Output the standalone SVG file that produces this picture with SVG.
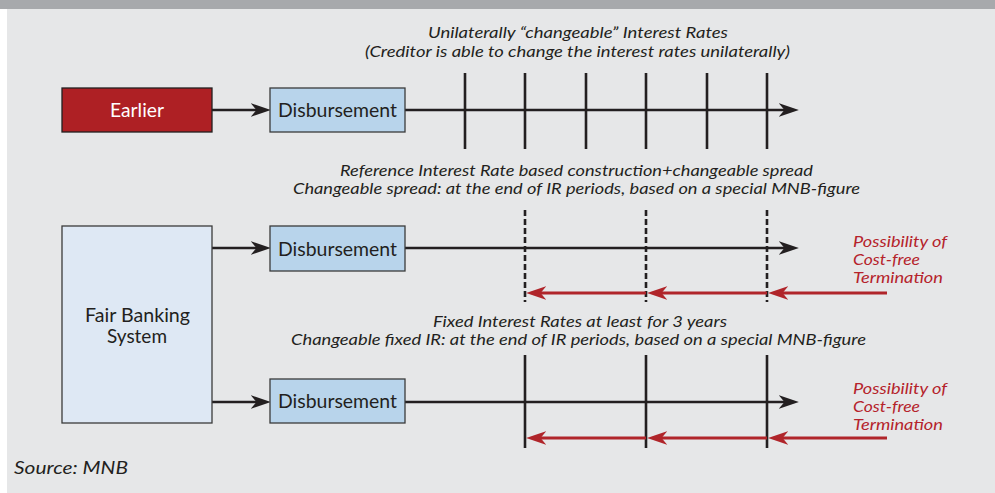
<svg xmlns="http://www.w3.org/2000/svg" width="995" height="493" viewBox="0 0 995 493">
<defs>
<style>
.t{font-family:Lato,"Open Sans","Liberation Sans",sans-serif;fill:#231f20}
.cap{font-style:italic;font-size:15.5px;text-anchor:middle}
.box{font-size:19px;text-anchor:middle}
.red{font-style:italic;font-size:15.5px;fill:#b5232b}
.ln{stroke:#231f20;stroke-width:2.6;fill:none}
.tick{stroke:#231f20;stroke-width:2.6}
.dash{stroke:#231f20;stroke-width:2.6;stroke-dasharray:6 3}
.rl{stroke:#b0252a;stroke-width:3;fill:none}
.nb{stroke:#3b3b3b;stroke-width:1.3}
</style>
<marker id="ab" markerUnits="userSpaceOnUse" markerWidth="20" markerHeight="14" viewBox="0 0 18 12" refX="10" refY="6" orient="auto">
<path d="M0,0 L18,6 L0,12 L5,6 Z" fill="#231f20"/>
</marker>
<marker id="ar" markerUnits="userSpaceOnUse" markerWidth="20" markerHeight="14" viewBox="0 0 18 12" refX="10" refY="6" orient="auto">
<path d="M0,0 L18,6 L0,12 L5,6 Z" fill="#b0252a"/>
</marker>
</defs>
<rect x="0" y="0" width="995" height="493" fill="#ffffff"/>
<rect x="7" y="0" width="988" height="493" fill="#e6e7e8"/>
<rect x="0" y="0" width="995" height="9" fill="#a7a9ac"/>

<g id="connectors">
<line class="ln" x1="212" y1="110" x2="262" y2="110" marker-end="url(#ab)"/>
<line class="ln" x1="212" y1="248" x2="262" y2="248" marker-end="url(#ab)"/>
<line class="ln" x1="212" y1="402" x2="262" y2="402" marker-end="url(#ab)"/>
<line class="ln" x1="405" y1="110" x2="790" y2="110" marker-end="url(#ab)"/>
<line class="ln" x1="405" y1="248" x2="790" y2="248" marker-end="url(#ab)"/>
<line class="ln" x1="405" y1="402" x2="790" y2="402" marker-end="url(#ab)"/>
<g id="ticks-top">
<line class="tick" x1="465" y1="73" x2="465" y2="149"/>
<line class="tick" x1="525" y1="73" x2="525" y2="149"/>
<line class="tick" x1="586" y1="73" x2="586" y2="149"/>
<line class="tick" x1="646" y1="73" x2="646" y2="149"/>
<line class="tick" x1="707" y1="73" x2="707" y2="149"/>
<line class="tick" x1="767" y1="73" x2="767" y2="149"/>
</g>
<g id="ticks-mid">
<line class="dash" x1="525" y1="210" x2="525" y2="302"/>
<line class="dash" x1="646" y1="210" x2="646" y2="302"/>
<line class="dash" x1="767" y1="210" x2="767" y2="302"/>
</g>
<g id="ticks-bot">
<line class="tick" x1="525" y1="355" x2="525" y2="448"/>
<line class="tick" x1="646" y1="355" x2="646" y2="448"/>
<line class="tick" x1="767" y1="355" x2="767" y2="448"/>
</g>
<g id="termination-mid">
<line class="rl" x1="887" y1="293" x2="777" y2="293" marker-end="url(#ar)"/>
<line class="rl" x1="767" y1="293" x2="656" y2="293" marker-end="url(#ar)"/>
<line class="rl" x1="646" y1="293" x2="535" y2="293" marker-end="url(#ar)"/>
</g>
<g id="termination-bot">
<line class="rl" x1="887" y1="438" x2="777" y2="438" marker-end="url(#ar)"/>
<line class="rl" x1="767" y1="438" x2="656" y2="438" marker-end="url(#ar)"/>
<line class="rl" x1="646" y1="438" x2="535" y2="438" marker-end="url(#ar)"/>
</g>
</g>

<g id="earlier">
<rect x="62" y="88" width="150" height="44" fill="#ae2024" stroke="#231f20" stroke-width="1.3"/>
<text class="t box" x="137" y="117" fill="#ffffff" style="fill:#ffffff" textLength="54" lengthAdjust="spacingAndGlyphs">Earlier</text>
</g>
<g id="disbursement-1">
<rect class="nb" x="270" y="88" width="135" height="44" fill="#b8d4eb"/>
<text class="t box" x="337.5" y="117" textLength="119" lengthAdjust="spacingAndGlyphs">Disbursement</text>
</g>
<g id="fair-banking">
<rect class="nb" x="62" y="226" width="150" height="197" fill="#dee8f4"/>
<text class="t box" x="137.5" y="322" textLength="105" lengthAdjust="spacingAndGlyphs">Fair Banking</text>
<text class="t box" x="137" y="343" textLength="60" lengthAdjust="spacingAndGlyphs">System</text>
</g>
<g id="disbursement-2">
<rect class="nb" x="270" y="226" width="135" height="45" fill="#b8d4eb"/>
<text class="t box" x="337.5" y="256" textLength="119" lengthAdjust="spacingAndGlyphs">Disbursement</text>
</g>
<g id="disbursement-3">
<rect class="nb" x="270" y="379" width="135" height="44" fill="#b8d4eb"/>
<text class="t box" x="337.5" y="408" textLength="119" lengthAdjust="spacingAndGlyphs">Disbursement</text>
</g>

<g id="labels">
<text class="t cap" x="578" y="38" textLength="300" lengthAdjust="spacingAndGlyphs">Unilaterally “changeable” Interest Rates</text>
<text class="t cap" x="577.5" y="57" textLength="425" lengthAdjust="spacingAndGlyphs">(Creditor is able to change the interest rates unilaterally)</text>
<text class="t cap" x="576.5" y="176" textLength="473" lengthAdjust="spacingAndGlyphs">Reference Interest Rate based construction+changeable spread</text>
<text class="t cap" x="576.5" y="194" textLength="567" lengthAdjust="spacingAndGlyphs">Changeable spread: at the end of IR periods, based on a special MNB-figure</text>
<text class="t cap" x="580" y="327" textLength="294" lengthAdjust="spacingAndGlyphs">Fixed Interest Rates at least for 3 years</text>
<text class="t cap" x="578.5" y="345" textLength="575" lengthAdjust="spacingAndGlyphs">Changeable fixed IR: at the end of IR periods, based on a special MNB-figure</text>
<text class="t red" x="853" y="247" textLength="94" lengthAdjust="spacingAndGlyphs">Possibility of</text>
<text class="t red" x="853" y="265" textLength="67" lengthAdjust="spacingAndGlyphs">Cost-free</text>
<text class="t red" x="853" y="283" textLength="90" lengthAdjust="spacingAndGlyphs">Termination</text>
<text class="t red" x="853" y="394" textLength="94" lengthAdjust="spacingAndGlyphs">Possibility of</text>
<text class="t red" x="853" y="412" textLength="67" lengthAdjust="spacingAndGlyphs">Cost-free</text>
<text class="t red" x="853" y="430" textLength="90" lengthAdjust="spacingAndGlyphs">Termination</text>
<text class="t" x="14" y="474" font-style="italic" font-size="17" textLength="114" lengthAdjust="spacingAndGlyphs">Source: MNB</text>
</g>
</svg>
